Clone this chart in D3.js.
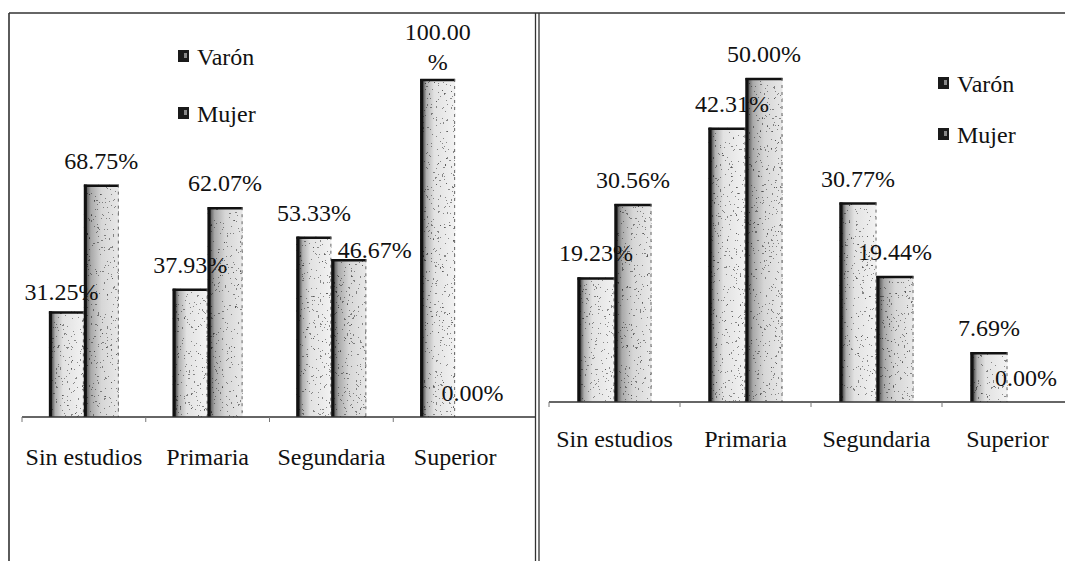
<!DOCTYPE html>
<html>
<head>
<meta charset="utf-8">
<script src="https://cdn.jsdelivr.net/npm/d3@7"></script>
<style>
  html, body { margin: 0; padding: 0; background: #ffffff; }
  svg { display: block; }
  svg text { font-family: 'Liberation Serif', 'DejaVu Serif', serif !important; fill: #111; }
</style>
</head>
<body>
<svg id="chart" width="1065" height="561"></svg>
<script>
// ---------- data ----------
const categories = ["Sin estudios", "Primaria", "Segundaria", "Superior"];
const seriesNames = ["Varón", "Mujer"];
// left panel: distribution of each education level by sex
const varonPorNivel = [31.25, 37.93, 53.33, 100.00];
const mujerPorNivel = [68.75, 62.07, 46.67, 0.00];
// right panel: distribution of each sex by education level
const varonPorSexo = [19.23, 42.31, 30.77, 7.69];
const mujerPorSexo = [30.56, 50.00, 19.44, 0.00];

// ---------- layout / style (not data) ----------
const FONT = "'Liberation Serif', 'DejaVu Serif', serif";
const panels = [
  { id: "L", values: [varonPorNivel, mujerPorNivel], yMax: 100,
    xRange: [22, 517], y0: 417, yTop: 79, axisEnd: 535,
    legendX: 178, legendY: [65, 122], catPad: 31 },
  { id: "R", values: [varonPorSexo, mujerPorSexo], yMax: 50,
    xRange: [549, 1073], y0: 402, yTop: 78, axisEnd: 1065,
    legendX: 938, legendY: [92, 143], catPad: 28 }
];
const labelNudge = { "L-0-0": [-5, 5], "L-1-2": [26, 15], "R-0-1": [5, 0] };
const fmt = v => d3.format(".2f")(v) + "%";

const svg = d3.select("#chart");
const defs = svg.append("defs");

function addGrad(id, stops) {
  const g = defs.append("linearGradient").attr("id", id)
    .attr("x1", "0").attr("x2", "1").attr("y1", "0").attr("y2", "0");
  stops.forEach(s => g.append("stop").attr("offset", s[0]).attr("stop-color", s[1]));
}
addGrad("gV", [[0, "#111"], [0.07, "#444"], [0.18, "#b0b0b0"], [0.4, "#e2e2e2"], [1, "#f2f2f2"]]);
addGrad("gM", [[0, "#222"], [0.07, "#555"], [0.2, "#a8a8a8"], [0.5, "#d6d6d6"], [1, "#e8e8e8"]]);

const f = defs.append("filter").attr("id", "speckle")
  .attr("x", 0).attr("y", 0).attr("width", 1).attr("height", 1);
f.append("feTurbulence").attr("type", "fractalNoise").attr("baseFrequency", 0.45)
  .attr("numOctaves", 3).attr("seed", 7).attr("result", "n");
f.append("feColorMatrix").attr("in", "n").attr("type", "matrix")
  .attr("values", "0 0 0 0 0  0 0 0 0 0  0 0 0 0 0  1 0 0 0 0").attr("result", "a");
const ct = f.append("feComponentTransfer").attr("in", "a").attr("result", "t");
ct.append("feFuncA").attr("type", "discrete").attr("tableValues", "0 0 0 0 0 0 0 0.7 1 1");
f.append("feComposite").attr("in", "t").attr("in2", "SourceGraphic").attr("operator", "in");

// ---------- frames ----------
const frame = svg.append("g").attr("stroke", "#333").attr("fill", "none");
frame.append("line").attr("x1", 9).attr("x2", 1065).attr("y1", 13).attr("y2", 13).attr("stroke-width", 1.6);
frame.append("line").attr("x1", 9).attr("x2", 9).attr("y1", 13).attr("y2", 561).attr("stroke-width", 1.6);
frame.append("line").attr("x1", 535.5).attr("x2", 535.5).attr("y1", 13).attr("y2", 561).attr("stroke-width", 1.3);
frame.append("line").attr("x1", 539).attr("x2", 539).attr("y1", 13).attr("y2", 561).attr("stroke-width", 1.3);

// ---------- panels ----------
panels.forEach(p => {
  const g = svg.append("g");
  const x0 = d3.scaleBand().domain(categories).range(p.xRange).paddingInner(0).paddingOuter(0);
  const x1 = d3.scaleBand().domain(seriesNames).range([0, x0.bandwidth()])
    .paddingInner(0).paddingOuter(0.77);
  const y = d3.scaleLinear().domain([0, p.yMax]).range([p.y0, p.yTop]);

  const rows = [];
  seriesNames.forEach((s, si) => categories.forEach((c, ci) => {
    rows.push({ s, si, c, ci, v: p.values[si][ci] });
  }));

  const bars = g.append("g");
  rows.forEach(d => {
    const bx = x0(d.c) + x1(d.s), bw = x1.bandwidth();
    const by = y(d.v), bh = y(0) - y(d.v);
    if (bh <= 0) return;
    bars.append("rect").attr("x", bx).attr("y", by).attr("width", bw).attr("height", bh)
      .attr("fill", d.si === 0 ? "url(#gV)" : "url(#gM)");
    bars.append("rect").attr("x", bx).attr("y", by).attr("width", bw).attr("height", bh)
      .attr("fill", "#000").attr("opacity", 0.6).attr("filter", "url(#speckle)");
    bars.append("line").attr("x1", bx).attr("x2", bx + bw).attr("y1", by + 1).attr("y2", by + 1)
      .attr("stroke", "#111").attr("stroke-width", 2.5);
    bars.append("line").attr("x1", bx + 1.5).attr("x2", bx + 1.5).attr("y1", by).attr("y2", y(0))
      .attr("stroke", "#111").attr("stroke-width", 3);
    bars.append("line").attr("x1", bx + bw - 0.5).attr("x2", bx + bw - 0.5).attr("y1", by).attr("y2", y(0))
      .attr("stroke", "#666").attr("stroke-width", 1).attr("stroke-dasharray", "3 4");
  });

  const axis = d3.axisBottom(x0).tickSize(0).tickPadding(p.catPad).tickSizeOuter(0);
  const ag = g.append("g").attr("transform", `translate(0,${p.y0})`).call(axis)
    .attr("font-family", FONT).attr("font-size", 24);
  ag.select(".domain").remove();
  ag.selectAll("text").style("font-family", FONT).style("font-size", "24px").attr("fill", "#111");
  g.append("line").attr("x1", p.xRange[0]).attr("x2", p.axisEnd)
    .attr("y1", p.y0).attr("y2", p.y0).attr("stroke", "#333").attr("stroke-width", 1.6);
  d3.range(categories.length).forEach(i => {
    const tx = p.xRange[0] + i * x0.step();
    g.append("line").attr("x1", tx).attr("x2", tx).attr("y1", p.y0).attr("y2", p.y0 + 5)
      .attr("stroke", "#777").attr("stroke-width", 1);
  });

  const lg = g.append("g").attr("font-size", 24).attr("font-family", FONT).attr("text-anchor", "middle");
  rows.forEach(d => {
    const nd = labelNudge[`${p.id}-${d.si}-${d.ci}`] || [0, 0];
    const cx = x0(d.c) + x1(d.s) + x1.bandwidth() / 2 + nd[0];
    const t = lg.append("text").attr("x", cx).style("font-family", FONT);
    if (d.v >= 100) {
      const s = fmt(d.v);
      t.append("tspan").attr("x", cx).attr("y", y(d.v) - 39 + nd[1]).text(s.slice(0, -1));
      t.append("tspan").attr("x", cx).attr("y", y(d.v) - 9 + nd[1]).text("%");
    } else {
      t.attr("y", y(d.v) - 16 + nd[1]).text(fmt(d.v));
    }
  });

  const leg = g.append("g");
  seriesNames.forEach((s, i) => {
    const ly = p.legendY[i];
    leg.append("rect").attr("x", p.legendX).attr("y", ly - 15).attr("width", 11).attr("height", 12)
      .attr("fill", "#1a1a1a");
    leg.append("rect").attr("x", p.legendX + 6).attr("y", ly - 12).attr("width", 3).attr("height", 5)
      .attr("fill", "#888");
    leg.append("text").attr("x", p.legendX + 19).attr("y", ly).attr("font-size", 24)
      .style("font-family", FONT).text(s);
  });
});
</script>
</body>
</html>
